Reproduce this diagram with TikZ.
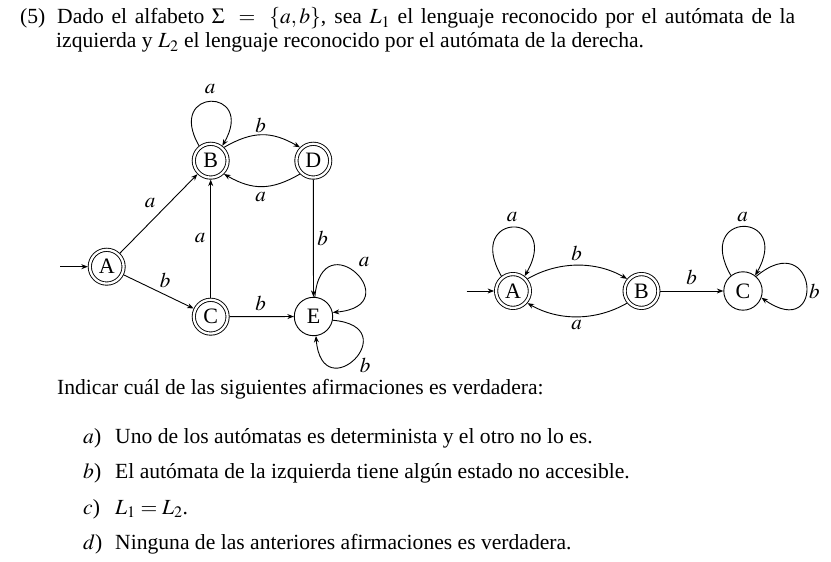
\documentclass[tikz,border=0pt]{standalone}
\usepackage{mathptmx}
\usepackage[no-math]{fontspec}
\setmainfont{Liberation Serif}
\usetikzlibrary{arrows.meta}
\begin{document}
\begin{tikzpicture}[x=1pt,y=1pt,
  every node/.style={inner sep=0pt},
  acc/.style={circle,draw,line width=0.9pt,double,double distance=2.3pt,minimum size=33.8pt,outer sep=2pt,font=\fontsize{22}{22}\selectfont},
  st/.style={circle,draw,line width=0.9pt,minimum size=38.4pt,outer sep=0.45pt,font=\fontsize{22}{22}\selectfont},
  edge/.style={line width=0.9pt,-{Stealth[length=6.5pt,width=5pt]}},
  lab/.style={font=\fontsize{21}{21}\selectfont},
  txt/.style={anchor=base west,font=\fontsize{21.6}{25}\selectfont}]
\useasboundingbox (0,0) rectangle (831,562);
% ---- text ----
\node[txt] (num) at (20,538) {(5)};
\node[txt] (l1) at (57,538) {\makebox[738pt][s]{Dado el alfabeto $\Sigma\ =\ \{a,b\}$, sea $L_1$ el lenguaje reconocido por el autómata de la}};
\node[txt] (l2) at (56,514) {izquierda y $L_2$ el lenguaje reconocido por el autómata de la derecha.};
\node[txt] (q) at (57,167) {Indicar cuál de las siguientes afirmaciones es verdadera:};
\node[txt] (ia) at (83,118) {$a$)};
\node[txt] (ta) at (115,118) {Uno de los autómatas es determinista y el otro no lo es.};
\node[txt] (ib) at (83,83) {$b$)};
\node[txt] (tb) at (115,83) {El autómata de la izquierda tiene algún estado no accesible.};
\node[txt] (ic) at (83,47.5) {$c$)};
\node[txt] (tc) at (115,47.5) {$L_1 = L_2$.};
\node[txt] (id) at (83,12) {$d$)};
\node[txt] (td) at (115,12) {Ninguna de las anteriores afirmaciones es verdadera.};
% ---- left automaton ----
\node[acc] (A1) at (106.7,295.3) {A};
\node[acc] (B1) at (210.7,401.3) {B};
\node[acc] (D1) at (313.3,401.3) {D};
\node[acc] (C1) at (210.7,245.3) {C};
\node[st]  (E1) at (313.5,245.5) {E};
\coordinate (i1) at (60,295.3);
\draw[edge] (i1) -- (A1);
\draw[edge] (A1) -- (B1);
\draw[edge] (A1) -- (C1);
\draw[edge] (C1) -- (B1);
\draw[edge] (D1) -- (E1);
\draw[edge] (C1) -- (E1);
\draw[edge] (B1.45) .. controls +(30:33) and +(150:33) .. (D1.135);
\draw[edge] (D1.-135) .. controls +(-150:33) and +(-30:33) .. (B1.-45);
\draw[edge] (B1.128) .. controls +(120:68) and +(60:68) .. (B1.52);
\draw[edge] (E1.86) .. controls +(85:78) and +(5:78) .. (E1.12);
\draw[edge] (E1.-11) .. controls +(-5:75) and +(-85:75) .. (E1.-83);
\node[lab] (la1) at (210,473) {$a$};
\node[lab] (lb1) at (260.7,437) {$b$};
\node[lab] (la2) at (260.7,365.3) {$a$};
\node[lab] (la3) at (150,359) {$a$};
\node[lab] (lb2) at (165,282) {$b$};
\node[lab] (la4) at (200,324) {$a$};
\node[lab] (lb3) at (322.7,324) {$b$};
\node[lab] (lb4) at (260.7,259) {$b$};
\node[lab] (la5) at (364,300) {$a$};
\node[lab] (lb5) at (365,197) {$b$};
% ---- right automaton ----
\node[acc] (A2) at (513,271) {A};
\node[acc] (B2) at (641.5,271) {B};
\node[st]  (C2) at (743,271) {C};
\coordinate (i2) at (466.7,271);
\draw[edge] (i2) -- (A2);
\draw[edge] (B2) -- (C2);
\draw[edge] (A2.40) .. controls +(30:36) and +(150:36) .. (B2.140);
\draw[edge] (B2.-140) .. controls +(-150:36) and +(-30:36) .. (A2.-40);
\draw[edge] (A2.128) .. controls +(120:75) and +(60:75) .. (A2.52);
\draw[edge] (C2.128) .. controls +(120:75) and +(60:75) .. (C2.52);
\draw[edge] (C2.48) .. controls +(40:80) and +(-35:80) .. (C2.-20);
\node[lab] (ra1) at (512,345.3) {$a$};
\node[lab] (rb1) at (576.7,308.7) {$b$};
\node[lab] (ra2) at (576.7,237) {$a$};
\node[lab] (rb2) at (691.7,284.7) {$b$};
\node[lab] (ra3) at (742.7,345.3) {$a$};
\node[lab] (rb3) at (814.3,271) {$b$};
\end{tikzpicture}
\end{document}
